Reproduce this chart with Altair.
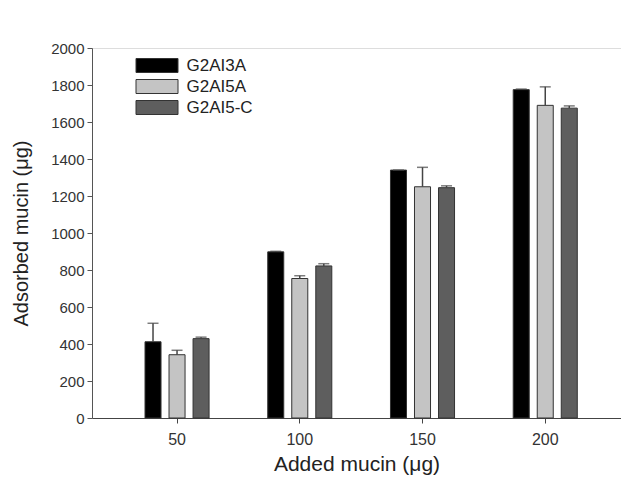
import altair as alt
import pandas as pd

groups = ["50", "100", "150", "200"]
series = ["G2AI3A", "G2AI5A", "G2AI5-C"]
colors = ["#000000", "#c4c4c4", "#5e5e5e"]

mean_g2ai3a = [412, 898, 1340, 1775]
err_g2ai3a = [100, 3, 0, 3]
mean_g2ai5a = [342, 754, 1250, 1690]
err_g2ai5a = [24, 15, 105, 100]
mean_g2ai5c = [429, 822, 1245, 1675]
err_g2ai5c = [8, 12, 10, 12]

y_ticks = list(range(0, 2001, 200))

rows = []
for s, means, errs in zip(series, [mean_g2ai3a, mean_g2ai5a, mean_g2ai5c],
                          [err_g2ai3a, err_g2ai5a, err_g2ai5c]):
    for g, m, e in zip(groups, means, errs):
        rows.append({"added": g, "series": s, "mean": m, "upper": m + e})
df = pd.DataFrame(rows)

FONT = "Liberation Sans"

x_axis = alt.Axis(title="Added mucin (μg)", labelAngle=0, labelFontSize=16,
                  labelColor="#333", labelPadding=8, tickSize=5,
                  tickColor="#444", domainColor="#444", titleFontSize=21,
                  titleFontWeight="normal", titleColor="#222", titlePadding=6,
                  labelFont=FONT, titleFont=FONT)
x_scale = alt.Scale(paddingInner=0.478, paddingOuter=0.394, align=0.548)
y_axis = alt.Axis(title="Adsorbed mucin (μg)", values=y_ticks, grid=False,
                  format="d", labelOverlap=False, tickCount=11,
                  labelFontSize=15, labelColor="#333", tickSize=5, tickColor="#555",
                  domainColor="#555", labelPadding=3, titleFontSize=20,
                  titleFontWeight="normal", titleColor="#222", titlePadding=19,
                  labelFont=FONT, titleFont=FONT)
y_scale = alt.Scale(domain=[0, 2000], nice=False)

x_enc = alt.X("added:N", sort=groups, scale=x_scale, axis=x_axis)
xoff = alt.XOffset("series:N", sort=series, scale=alt.Scale(paddingInner=0.333, paddingOuter=0))

base = alt.Chart(df)

bars = base.mark_bar(stroke="#333", strokeWidth=1).encode(
    x=x_enc,
    xOffset=xoff,
    y=alt.Y("mean:Q", scale=y_scale, axis=y_axis),
    color=alt.Color("series:N", sort=series,
                    scale=alt.Scale(domain=series, range=colors),
                    legend=alt.Legend(title=None, orient="none", legendX=56.5, legendY=9,
                                      symbolType="M-3,-1H3V1H-3Z", symbolSize=196,
                                      symbolStrokeColor="#333", symbolStrokeWidth=1,
                                      labelFontSize=17, labelColor="#222", labelFont=FONT,
                                      labelOffset=21, rowPadding=2, padding=0)),
)

err = base.mark_rule(color="#444", strokeWidth=1.5).encode(
    x=x_enc,
    xOffset=xoff,
    y=alt.Y("mean:Q", scale=y_scale, axis=y_axis),
    y2="upper:Q",
)

caps = base.mark_tick(color="#444", thickness=1.5, size=11, orient="horizontal").encode(
    x=x_enc,
    xOffset=xoff,
    y=alt.Y("upper:Q", scale=y_scale, axis=y_axis),
)

chart = alt.layer(bars, err, caps).properties(
    width=529, height=370,
    autosize=alt.AutoSizeParams(type="none"),
    padding={"left": 84, "top": 40, "right": 0, "bottom": 72},
).configure_view(stroke=None).configure(background="white")

chart.save("out.html", embed_options={"renderer": "svg", "actions": False})
